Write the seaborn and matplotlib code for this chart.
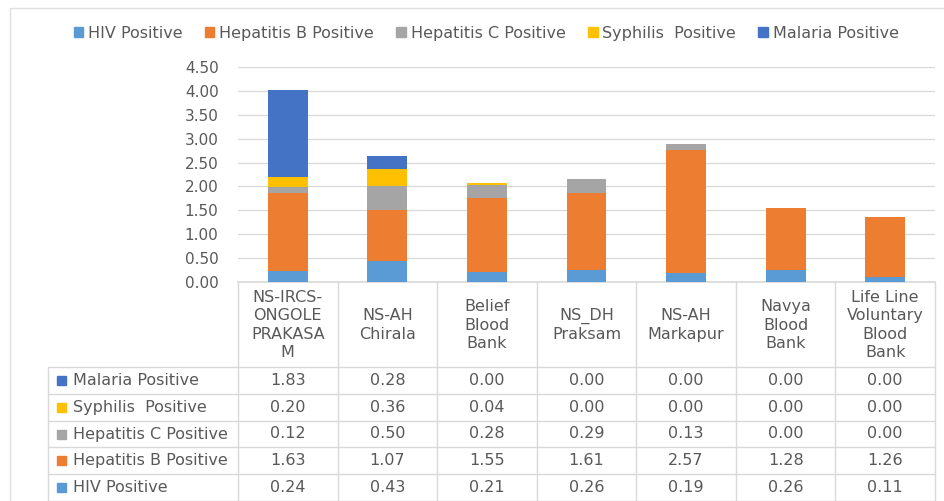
import matplotlib
matplotlib.use("Agg")
import matplotlib.pyplot as plt
import seaborn as sns
from matplotlib.patches import Patch, Rectangle

# data
sites = ["NS-IRCS-\nONGOLE\nPRAKASA\nM", "NS-AH\nChirala", "Belief\nBlood\nBank",
         "NS_DH\nPraksam", "NS-AH\nMarkapur", "Navya\nBlood\nBank",
         "Life Line\nVoluntary\nBlood\nBank"]
hiv = [0.24, 0.43, 0.21, 0.26, 0.19, 0.26, 0.11]
hep_b = [1.63, 1.07, 1.55, 1.61, 2.57, 1.28, 1.26]
hep_c = [0.12, 0.50, 0.28, 0.29, 0.13, 0.00, 0.00]
syphilis = [0.20, 0.36, 0.04, 0.00, 0.00, 0.00, 0.00]
malaria = [1.83, 0.28, 0.00, 0.00, 0.00, 0.00, 0.00]
series_names = ["HIV Positive", "Hepatitis B Positive", "Hepatitis C Positive",
                "Syphilis  Positive", "Malaria Positive"]
series_vals = [hiv, hep_b, hep_c, syphilis, malaria]
colors = ["#5B9BD5", "#ED7D31", "#A5A5A5", "#FFC000", "#4472C4"]
yticks = [0, 0.5, 1.0, 1.5, 2.0, 2.5, 3.0, 3.5, 4.0, 4.5]

sns.set_theme(style="white")
plt.rcParams['font.family'] = ['DejaVu Sans']
txt = "#595959"
grid = "#D9D9D9"

W, H = 944, 501
fig = plt.figure(figsize=(W / 100, H / 100), dpi=100)

# plot area in pixel terms
x0, x1, ytop, ybot = 238, 935, 67, 282
ax = fig.add_axes([x0 / W, 1 - ybot / H, (x1 - x0) / W, (ybot - ytop) / H])

bottom = [0.0] * len(sites)
idx = list(range(len(sites)))
for name, vals, c in zip(series_names, series_vals, colors):
    sns.barplot(x=idx, y=vals, bottom=bottom, color=c, width=0.4,
                saturation=1, ax=ax, zorder=3, linewidth=0)
    bottom = [b + v for b, v in zip(bottom, vals)]

ax.set_ylim(0, 4.5)
ax.set_xlim(-0.5, len(sites) - 0.5)
ax.set_yticks(yticks)
ax.set_yticklabels([f"{t:.2f}" for t in yticks], color=txt, fontsize=11)
ax.set_xticks([])
ax.set_xlabel("")
ax.set_ylabel("")
ax.yaxis.grid(True, color=grid, linewidth=0.9, zorder=0)
ax.tick_params(axis="y", length=0, pad=14)
for s in ["top", "right", "left"]:
    ax.spines[s].set_visible(False)
ax.spines["bottom"].set_color(grid)

# overlay in pixel coordinates for the data table
tab = fig.add_axes([0, 0, 1, 1], zorder=-1)
tab.set_xlim(0, W)
tab.set_ylim(H, 0)
tab.axis("off")

# outer chart border
tab.plot([10, 10], [8, H], color="#E0E0E0", lw=1)
tab.plot([10, W], [8, 8], color="#E0E0E0", lw=1)

n = len(sites)
cw = (x1 - x0) / n
row_top = 367
rh = 26.8
nrows = len(series_names)
tbot = row_top + rh * nrows

# vertical lines
tab.plot([x0, x0], [ybot, tbot], color=grid, lw=1)
for i in range(1, n + 1):
    xx = x0 + i * cw
    tab.plot([xx, xx], [ybot, tbot], color=grid, lw=1)
tab.plot([48, 48], [row_top, tbot], color=grid, lw=1)
# horizontal lines
for r in range(nrows + 1):
    yy = row_top + r * rh
    tab.plot([48, x1], [yy, yy], color=grid, lw=1)

# category headers
for i, s in enumerate(sites):
    tab.text(x0 + (i + 0.5) * cw, 325, s, ha="center", va="center",
             color=txt, fontsize=11.5, linespacing=1.27)

# data rows (reverse order: Malaria on top)
for r, k in enumerate(reversed(range(nrows))):
    yc = row_top + (r + 0.5) * rh
    tab.add_patch(Rectangle((57, yc - 4.5), 9, 9, color=colors[k]))
    tab.text(73, yc, series_names[k], ha="left", va="center", color=txt, fontsize=11.5)
    for i, v in enumerate(series_vals[k]):
        tab.text(x0 + (i + 0.5) * cw, yc, f"{v:.2f}", ha="center", va="center",
                 color=txt, fontsize=11.5)

handles = [Patch(color=c, label=nm) for nm, c in zip(series_names, colors)]
fig.legend(handles=handles, loc="center", bbox_to_anchor=(0.515, 0.934), ncol=5,
           frameon=False, fontsize=11.5, handlelength=0.6, handleheight=0.6,
           handletextpad=0.3, columnspacing=1.4, labelcolor=txt)

fig.savefig("out.png", dpi=100)
